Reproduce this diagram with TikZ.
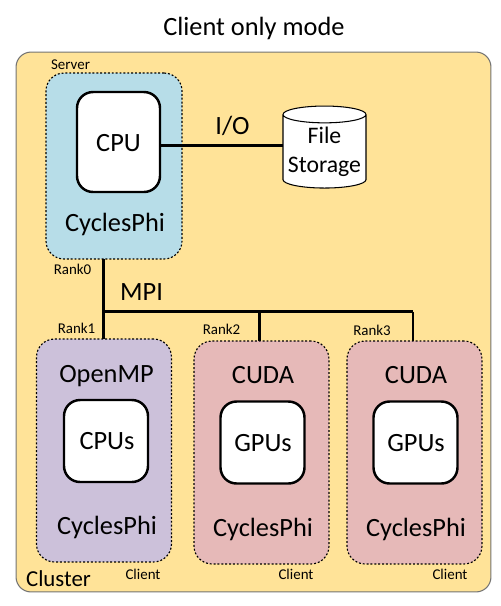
\documentclass[tikz,border=0pt]{standalone}
\usepackage{fontspec}
\setmainfont{Carlito}
\usetikzlibrary{shapes.geometric}
\definecolor{clustercol}{HTML}{FFE398}
\definecolor{servercol}{HTML}{B7DDE8}
\definecolor{ompcol}{HTML}{CCC1DA}
\definecolor{cudacol}{HTML}{E6B9B8}

\begin{document}
\begin{tikzpicture}[x=0.02cm,y=-0.02cm,
  big/.style={font=\fontsize{15}{17}\selectfont,inner sep=0pt,anchor=base},
  small/.style={font=\fontsize{8.5}{10}\selectfont,inner sep=0pt,anchor=base},
  hostbox/.style={draw,line width=0.65pt,dash pattern=on 1.1pt off 1.1pt,rounded corners=0.36cm,outer sep=0pt},
  clientbox/.style={hostbox,minimum width=2.7cm,minimum height=4.46cm},
  chipbox/.style={draw,fill=white,line width=1.4pt,rounded corners=0.32cm,outer sep=0pt,font=\fontsize{15}{17}\selectfont},
  wire/.style={line width=1.3pt}]

\useasboundingbox (0,0) rectangle (501,606);

\node[big] (title) at (254,35) {Client only mode};

% cluster
\node[draw=black!55,fill=clustercol,line width=0.6pt,rounded corners=0.3cm,minimum width=9.5cm,minimum height=10.8cm,outer sep=0pt] (cluster) at (253.5,322) {};
\node[font=\fontsize{13}{15}\selectfont,inner sep=0pt,anchor=base] (clusterlab) at (58.5,586) {Cluster};

% server
\node[hostbox,fill=servercol,minimum width=2.72cm,minimum height=3.72cm] (server) at (114,166) {};
\node[chipbox,minimum width=1.66cm,minimum height=2cm] (cpu) at (118.5,142) {};
\node[big] (cpulab) at (118.5,151) {CPU};
\node[big] (serverlab) at (115,231) {CyclesPhi};
\node[small] (servertag) at (70.5,69) {Server};
\node[small] (rank0) at (72.5,274) {Rank0};

% storage
\node[draw,fill=white,line width=0.6pt,cylinder,shape border rotate=90,aspect=0.23,minimum width=1.66cm,minimum height=1.64cm,inner sep=0pt,outer sep=0pt,font=\fontsize{13.5}{15.5}\selectfont,align=center] (storage) at (324.5,151.5) {File\\[1pt]Storage};
\node[big] (iolab) at (232.5,134) {I/O};

% clients
\node[clientbox,fill=ompcol] (client1) at (104,450.5) {};
\node[clientbox,fill=cudacol] (client2) at (261.5,452.5) {};
\node[clientbox,fill=cudacol] (client3) at (414.5,452.5) {};

\node[chipbox,minimum width=1.68cm,minimum height=1.64cm] (cpus) at (106,441) {};
\node[chipbox,minimum width=1.68cm,minimum height=1.64cm] (gpus2) at (262.5,442.5) {};
\node[chipbox,minimum width=1.68cm,minimum height=1.64cm] (gpus3) at (415.5,442.5) {};

\node[big] (cpuslab) at (107,449) {CPUs};
\node[big] (gpuslab2) at (263,451) {GPUs};
\node[big] (gpuslab3) at (416,451) {GPUs};

\node[big] (omp) at (106.5,382) {OpenMP};
\node[big] (cuda2) at (263,383) {CUDA};
\node[big] (cuda3) at (416,383) {CUDA};

\node[big] (phi1) at (107,534) {CyclesPhi};
\node[big] (phi2) at (263,536) {CyclesPhi};
\node[big] (phi3) at (416,536) {CyclesPhi};

\node[small] (rank1) at (76.5,333) {Rank1};
\node[small] (rank2) at (221.5,334) {Rank2};
\node[small] (rank3) at (372,335) {Rank3};
\node[small] (clienttag1) at (143,579) {Client};
\node[small] (clienttag2) at (296,579) {Client};
\node[small] (clienttag3) at (450,579) {Client};

% wires
\coordinate (iowire) at (220,145.5);
\coordinate (busa) at (103.5,311.5);
\coordinate (busb) at (259.5,311.5);
\coordinate (busc) at (413,311.5);
\draw[wire] (cpu.east |- iowire) -- (storage.west |- iowire);
\draw[wire] (server.south -| busa) -- (client1.north -| busa);
\draw[wire] (busa) -- (busb) -- (busc);
\draw[wire] (busb) -- (client2.north -| busb);
\draw[wire] (busc) -- (client3.north -| busc);
\node[big] (mpilab) at (141.5,300) {MPI};

\end{tikzpicture}
\end{document}
